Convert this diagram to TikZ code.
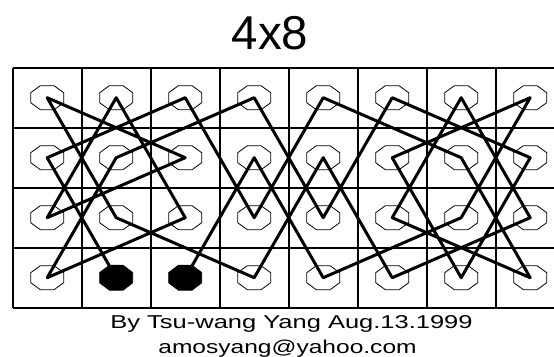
\documentclass[tikz,border=0pt]{standalone}
\usepackage{fontspec}
\setmainfont{Liberation Sans}
\usetikzlibrary{calc}

\tikzset{
	board/.style={line width=1.6pt},
	tour/.style={line width=3pt, line join=round, line cap=round},
	ring/.pic={\draw[line width=0.8pt] (22.5:17.9pt and 13pt)
		\foreach \a in {67.5,112.5,...,337.5}{ -- (\a:17.9pt and 13pt)} -- cycle;},
	endring/.pic={\fill (22.5:17.9pt and 14pt)
		\foreach \a in {67.5,112.5,...,337.5}{ -- (\a:17.9pt and 14pt)} -- cycle;}
}

\begin{document}
\begin{tikzpicture}[x=1pt,y=-1pt]
	\useasboundingbox (0,0) rectangle (554,356);
	\clip (0,0) rectangle (554,356);
	
	% squares of the 4x8 board
	\foreach \c in {1,...,8}
		\foreach \r in {1,...,4}
			\coordinate (s\c\r) at ({12.7+69*(\c-0.5)},{67.7+60*(\r-0.5)});
	
	\foreach \i in {0,...,8}
		\draw[board] ({12.7+69*\i},67.7) -- ({12.7+69*\i},307.7);
	\foreach \j in {0,...,4}
		\draw[board] (12.7,{67.7+60*\j}) -- (564.7,{67.7+60*\j});
	
	\foreach \c in {1,...,8}
		\foreach \r in {1,...,4}
			\pic at (s\c\r) {ring};
	
	% knight's tour
	\draw[tour] (s24) -- (s12) -- (s31) -- (s43) -- (s51) -- (s72) -- (s84) -- (s63)
		-- (s71) -- (s83) -- (s64) -- (s52) -- (s44) -- (s23) -- (s11) -- (s32)
		-- (s13) -- (s21) -- (s33) -- (s14) -- (s22) -- (s41) -- (s53) -- (s61)
		-- (s82) -- (s74) -- (s62) -- (s81) -- (s73) -- (s54) -- (s42) -- (s34);
	
	\pic at (s24) {endring};
	\pic at (s34) {endring};
	
	\node[anchor=base] (title) at (270,49) {\fontsize{47.5}{50}\selectfont 4x8};
	\node[anchor=base] (author) at (291.5,328.3)
		{\scalebox{1.37}[1]{\fontsize{18.6}{20}\selectfont By Tsu-wang Yang Aug.13.1999}};
	\node[anchor=base] (mail) at (287.5,353)
		{\scalebox{1.32}[1]{\fontsize{18.6}{20}\selectfont amosyang@yahoo.com}};
	
\end{tikzpicture}
\end{document}
